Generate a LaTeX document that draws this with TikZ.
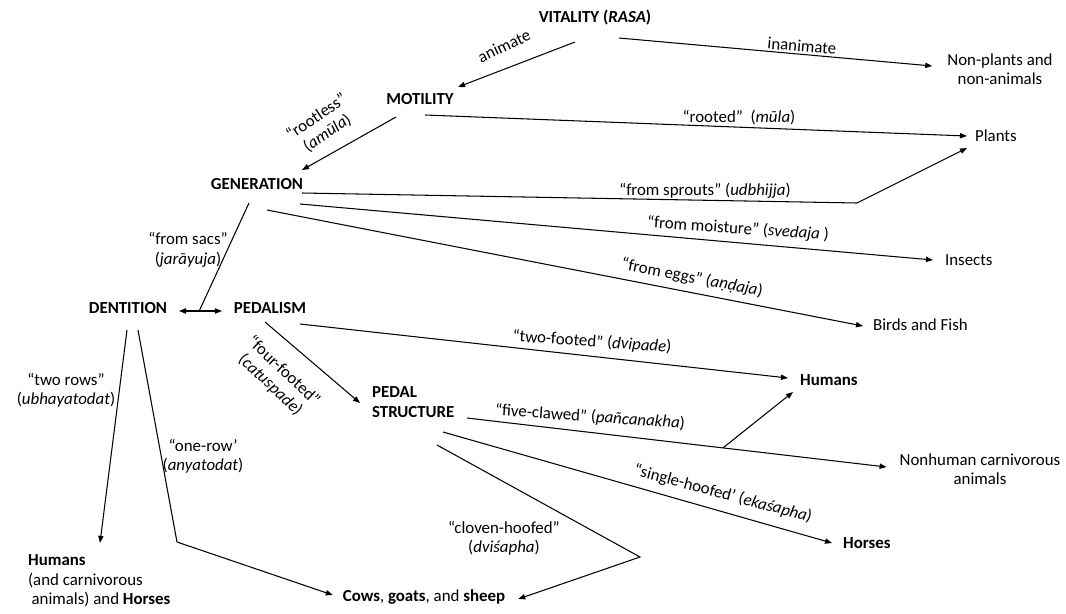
\documentclass[tikz,border=0pt]{standalone}
\usepackage{fontspec}
\setmainfont{Carlito}
\usetikzlibrary{arrows.meta,calc}

\begin{document}
\fontsize{9.6}{11}\selectfont
\begin{tikzpicture}[
  x=0.02cm, y=-0.02cm,
  hub/.style={font=\bfseries,inner sep=1pt,align=left},
  leaf/.style={inner sep=1pt,align=center},
  lbl/.style={inner sep=0pt,align=center},
  arrow/.style={-{Triangle[length=4pt,width=3pt]},line width=0.6pt},
  twoway/.style={{Triangle[length=4pt,width=3pt]}-{Triangle[length=4pt,width=3pt]},line width=0.6pt},
  link/.style={line width=0.6pt}
]
\useasboundingbox (0,0) rectangle (1066,613);

% levels of the key
\node[hub] (vit) at (595,18) {VITALITY (\textit{RASA})};
\node[hub] (mot) at (420,99) {MOTILITY};
\node[hub] (gen) at (257,184) {GENERATION};
\node[hub] (dent) at (128,308) {DENTITION};
\node[hub] (ped) at (270,308) {PEDALISM};
\node[hub,anchor=west] (pstr) at (370,402) {PEDAL\\STRUCTURE};

% classes reached
\node[leaf] (nonpl) at (1000,69) {Non-plants and\\non-animals};
\node[leaf,anchor=west] (plants) at (973,136) {Plants};
\node[leaf,anchor=west] (insects) at (943,260) {Insects};
\node[leaf,anchor=west] (birds) at (871,325) {Birds and Fish};
\node[leaf,anchor=west,font=\bfseries] (humr) at (798,380) {Humans};
\node[leaf] (nonhum) at (980,469) {Nonhuman carnivorous\\animals};
\node[leaf,anchor=west,font=\bfseries] (horses) at (841,543) {Horses};
\node[leaf] (cows) at (424,597) {\textbf{Cows}, \textbf{goats}, and \textbf{sheep}};
\node[leaf,align=left,anchor=west] (huml) at (26,581) {\textbf{Humans}\\(and carnivorous\\\hspace{2pt}animals) and \textbf{Horses}};

% edge labels
\node[lbl,rotate=25] (animate) at (504,46) {animate};
\node[lbl,rotate=-5] (inanimate) at (802,46) {inanimate};
\node[lbl] (rooted) at (739,117) {“rooted”\ \ (\textit{mūla})};
\node[lbl,rotate=34] (rootless) at (322,125) {“rootless”\\(\textit{amūla})};
\node[lbl] (sprouts) at (705,191) {“from sprouts” (\textit{udbhijja})};
\node[lbl,rotate=-4] (moist) at (738,229) {“from moisture” (\textit{svedaja} )};
\node[lbl,rotate=-11] (eggs) at (692,278) {“from eggs” (\textit{aṇḍaja})};
\node[lbl] (sacs) at (188,250) {“from sacs”\\(\textit{jarāyuja})};
\node[lbl,rotate=-4] (twofoot) at (592,342) {“two-footed” (\textit{dvipade})};
\node[lbl,rotate=-43] (fourfoot) at (277,378) {“four-footed”\\(\textit{catuspade})};
\node[lbl] (tworows) at (66,390) {“two rows”\\(\textit{ubhayatodat})};
\node[lbl] (onerow) at (203,456) {“one-row’\\(\textit{anyatodat})};
\node[lbl,rotate=-4] (fiveclaw) at (590,417) {“five-clawed” (\textit{pañcanakha})};
\node[lbl,rotate=-15] (onehoof) at (723,494) {“single-hoofed’ (\textit{ekaśapha})};
\node[lbl] (cloven) at (504,538) {“cloven-hoofed”\\(\textit{dviśapha})};

% bends
\coordinate (sprbend) at (857,203);
\coordinate (rowbend) at (177,542);
\coordinate (clovbend) at (640,557);

\draw[arrow] ([shift={(-20,24)}]vit.center) -- ([shift={(38,-12)}]mot.center);
\draw[arrow] ([shift={(24,20)}]vit.center) -- ([shift={(-13,-3)}]nonpl.west);
\draw[arrow] ([shift={(5,16)}]mot.center) -- ([shift={(-6,0)}]plants.west);
\draw[arrow] ([shift={(-24,18)}]mot.center) -- ([shift={(45,-14)}]gen.center);
\draw[arrow] ([shift={(45,9)}]gen.center) -- (sprbend) -- ([shift={(-6,12)}]plants.west);
\draw[arrow] ([shift={(43,20)}]gen.center) -- ([shift={(-10,0)}]insects.west);
\draw[arrow] ([shift={(10,26)}]gen.center) -- ([shift={(-8,1)}]birds.west);
\draw[twoway] ([shift={(51,3)}]dent.center) -- coordinate[pos=0.47] (split) ([shift={(-48,3)}]ped.center);
\draw[link] ([shift={(-8,19)}]gen.center) -- (split);
\draw[arrow] ([shift={(-1,22)}]dent.center) -- ([shift={(74,-10)}]huml.north west);
\draw[arrow] ([shift={(10,22)}]dent.center) -- (rowbend) -- ([shift={(-8,-2)}]cows.west);
\draw[arrow] ([shift={(-5,14)}]ped.center) -- ([shift={(-10,1)}]pstr.west);
\draw[arrow] ([shift={(30,16)}]ped.center) -- ([shift={(-10,-2)}]humr.west);
\draw[arrow] ([shift={(97,16)}]pstr.west) -- coordinate[pos=0.61] (fork) ([shift={(-11,-2)}]nonhum.west);
\draw[arrow] (fork) -- ([shift={(-5,12)}]humr.west);
\draw[arrow] ([shift={(73,30)}]pstr.west) -- ([shift={(-9,0)}]horses.west);
\draw[arrow] ([shift={(67,43)}]pstr.west) -- (clovbend) -- ([shift={(11,2)}]cows.east);
\end{tikzpicture}
\end{document}
